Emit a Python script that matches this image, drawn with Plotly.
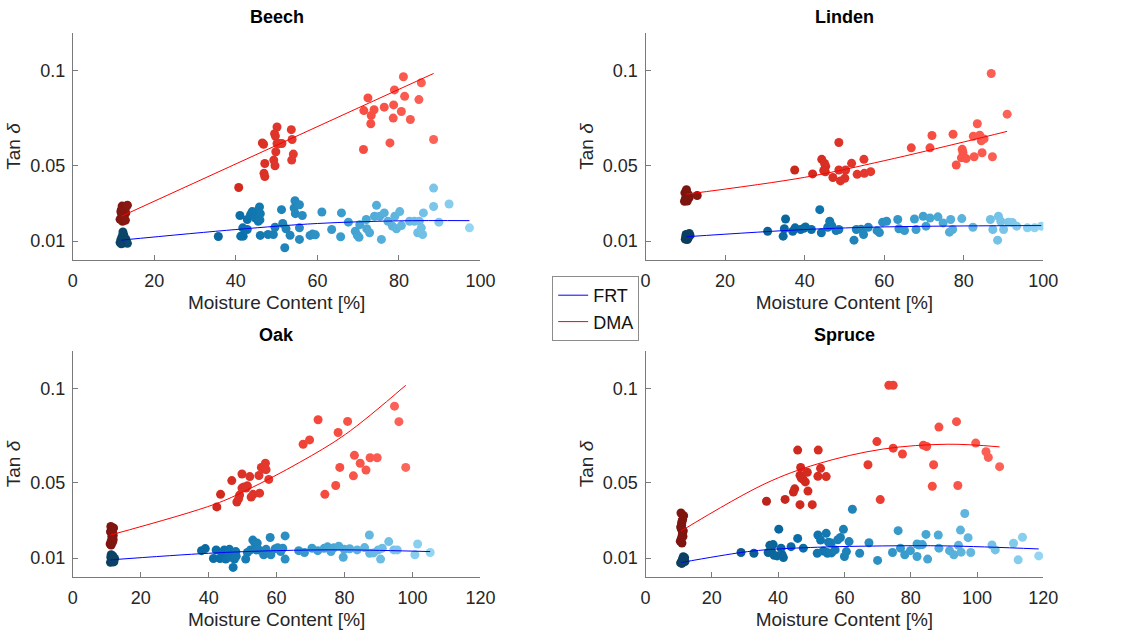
import plotly.graph_objects as go

# ---------------- DATA ----------------
# Beech
beech_frt_mc = [11.6, 12.0, 12.4, 12.8, 13.2, 11.8, 12.2, 12.6, 13.0, 12.1, 12.5, 12.3, 13.4, 11.9,
                35.7, 41.0, 41.2, 41.8, 41.7, 42.8, 42.8, 43.6, 44.0, 44.6, 45.2, 44.8, 45.5, 45.9, 45.8,
                46.0, 46.0, 47.9, 49.2, 49.6, 51.2, 51.5, 52.0, 52.3, 53.3, 54.5, 54.3, 54.6, 55.6, 55.6,
                55.6, 56.3, 58.2, 58.8, 59.5, 61.1, 63.5, 65.7, 65.9, 67.6, 69.3, 69.8, 70.2, 70.4, 72.0,
                72.1, 72.8, 74.5, 74.0, 75.3, 75.7, 76.4, 77.3, 78.4, 79.0, 79.4, 80.2, 80.6, 82.6, 83.8,
                85.0, 84.6, 85.5, 85.8, 86.0, 88.5, 88.5, 89.8, 92.3, 97.3]
beech_frt_tan = [0.0092, 0.0098, 0.0090, 0.0100, 0.0094, 0.0108, 0.0115, 0.0105, 0.0112, 0.0125, 0.0132, 0.0148, 0.0088, 0.0086,
                 0.0124, 0.0235, 0.0126, 0.0126, 0.0170, 0.0161, 0.0214, 0.0240, 0.0256, 0.0250, 0.0258, 0.0222, 0.0205, 0.0212, 0.0280,
                 0.0130, 0.0245, 0.0135, 0.0135, 0.0173, 0.0266, 0.0193, 0.0065, 0.0165, 0.0131, 0.0313, 0.0275, 0.0245, 0.0292, 0.0170,
                 0.0109, 0.0235, 0.0130, 0.0137, 0.0133, 0.0254, 0.0161, 0.0123, 0.0249, 0.0200, 0.0152, 0.0130, 0.0120, 0.0187, 0.0214,
                 0.0165, 0.0144, 0.0289, 0.0231, 0.0231, 0.0109, 0.0249, 0.0205, 0.0179, 0.0231, 0.0165, 0.0256, 0.0182, 0.0205, 0.0205,
                 0.0205, 0.0144, 0.0170, 0.0135, 0.0249, 0.0380, 0.0283, 0.0200, 0.0296, 0.0170]
beech_dma_mc = [11.6, 12.0, 12.4, 12.8, 13.2, 11.8, 12.2, 12.6, 13.0, 12.1, 12.5, 12.3, 13.4, 11.9, 12.9,
                40.7, 46.5, 46.8, 47.1, 46.9, 47.1, 50.1, 49.5, 49.7, 50.1, 50.7, 51.3, 49.8, 49.3, 49.6,
                53.6, 53.8, 54.1, 53.7, 72.4, 71.4, 73.2, 73.1, 73.9, 76.4, 78.9, 78.7, 78.6, 80.6, 81.1,
                81.4, 82.8, 84.9, 85.5, 88.5, 77.8, 71.3]
beech_dma_tan = [0.0215, 0.0240, 0.0228, 0.0262, 0.0285, 0.0255, 0.0205, 0.0272, 0.0248, 0.0285, 0.0232, 0.0218, 0.0290, 0.0265, 0.0210,
                 0.0383, 0.0619, 0.0612, 0.0510, 0.0458, 0.0441, 0.0703, 0.0668, 0.0655, 0.0616, 0.0616, 0.0616, 0.0572, 0.0528, 0.0498,
                 0.0689, 0.0637, 0.0560, 0.0528, 0.0857, 0.0790, 0.0764, 0.0720, 0.0794, 0.0808, 0.0899, 0.0820, 0.0750, 0.0785, 0.0969,
                 0.0865, 0.0743, 0.0848, 0.0937, 0.0637, 0.0619, 0.0584]
beech_frt_fit_mc = [11.9, 40.0, 60.0, 80.0, 97.3]
beech_frt_fit_tan = [0.0105, 0.0161, 0.0193, 0.0207, 0.0208]
beech_dma_fit_mc = [11.9, 88.5]
beech_dma_fit_tan = [0.0231, 0.0986]

# Linden
linden_frt_mc = [10.0, 10.3, 10.6, 10.9, 11.2, 10.2, 10.5, 10.8, 11.0, 10.4, 10.7, 10.1,
                 30.7, 34.6, 34.9, 35.2, 37.0, 37.6, 39.0, 40.2, 39.8, 41.7, 43.8, 44.2, 45.8, 46.3, 46.8,
                 47.9, 48.6, 52.4, 53.0, 54.2, 54.8, 56.0, 58.2, 58.8, 59.6, 60.6, 63.4, 63.7, 65.1, 67.6,
                 68.0, 69.8, 70.5, 71.5, 73.5, 74.8, 76.4, 76.7, 77.2, 79.5, 82.3, 86.7, 87.3, 88.5, 88.7,
                 89.3, 90.0, 91.2, 92.2, 93.3, 96.0, 97.8, 99.5]
linden_frt_tan = [0.0110, 0.0118, 0.0112, 0.0125, 0.0130, 0.0135, 0.0108, 0.0120, 0.0140, 0.0115, 0.0128, 0.0122,
                  0.0152, 0.0126, 0.0165, 0.0217, 0.0152, 0.0170, 0.0161, 0.0175, 0.0168, 0.0161, 0.0266, 0.0144, 0.0173, 0.0205, 0.0182,
                  0.0156, 0.0161, 0.0105, 0.0161, 0.0163, 0.0135, 0.0173, 0.0155, 0.0145, 0.0200, 0.0205, 0.0214, 0.0165, 0.0156, 0.0217,
                  0.0161, 0.0231, 0.0179, 0.0222, 0.0228, 0.0196, 0.0147, 0.0214, 0.0161, 0.0219, 0.0173, 0.0214, 0.0161, 0.0105, 0.0231,
                  0.0205, 0.0161, 0.0200, 0.0198, 0.0179, 0.0170, 0.0170, 0.0179]
linden_dma_mc = [9.8, 10.1, 10.4, 10.7, 11.0, 9.9, 10.2, 10.5, 10.8, 10.3, 10.6, 10.0,
                 13.0, 37.5, 42.0, 44.3, 45.0, 45.3, 44.8, 45.2, 47.1, 48.6, 48.6, 49.0, 50.1, 50.3, 51.8,
                 53.2, 54.9, 55.0, 56.6, 66.8, 71.5, 72.0, 77.3, 78.1, 79.6, 79.8, 79.4, 80.6, 82.6, 82.4,
                 83.4, 84.0, 84.4, 85.1, 84.6, 86.9, 87.2, 90.9]
linden_dma_tan = [0.0310, 0.0325, 0.0318, 0.0340, 0.0330, 0.0355, 0.0365, 0.0312, 0.0345, 0.0372, 0.0335, 0.0320,
                  0.0341, 0.0476, 0.0455, 0.0532, 0.0510, 0.0495, 0.0473, 0.0466, 0.0436, 0.0476, 0.0621, 0.0418, 0.0432, 0.0476, 0.0511,
                  0.0453, 0.0532, 0.0458, 0.0467, 0.0593, 0.0593, 0.0658, 0.0665, 0.0502, 0.0585, 0.0568, 0.0540, 0.0536, 0.0546, 0.0654,
                  0.0720, 0.0660, 0.0630, 0.0640, 0.0567, 0.0986, 0.0546, 0.0771]
linden_frt_fit_mc = [10.3, 40.0, 60.0, 80.0, 99.5]
linden_frt_fit_tan = [0.0123, 0.0161, 0.0175, 0.0180, 0.0182]
linden_dma_fit_mc = [10.3, 40.0, 60.0, 80.0, 90.9]
linden_dma_fit_tan = [0.0348, 0.0437, 0.0525, 0.0624, 0.0680]

# Oak
oak_frt_mc = [11.1, 11.4, 11.7, 12.0, 12.3, 11.2, 11.5, 11.8, 12.1, 11.3, 11.6, 11.9,
              37.9, 39.0, 41.4, 42.2, 43.3, 43.9, 44.6, 45.0, 45.6, 46.1, 46.7, 47.2, 47.6, 48.1, 48.0,
              50.9, 51.4, 52.3, 53.0, 53.6, 54.3, 54.0, 54.8, 56.2, 56.9, 58.1, 58.3, 59.6, 60.3, 61.2,
              61.8, 62.5, 62.5, 66.5, 68.2, 70.4, 72.1, 74.0, 75.0, 76.0, 76.8, 78.3, 79.6, 79.9, 81.5,
              83.7, 85.9, 87.3, 87.4, 88.5, 89.9, 90.6, 91.1, 93.0, 94.5, 95.5, 100.7, 101.5, 105.2]
oak_frt_tan = [0.0078, 0.0085, 0.0092, 0.0080, 0.0098, 0.0105, 0.0088, 0.0112, 0.0082, 0.0118, 0.0095, 0.0100,
               0.0140, 0.0151, 0.0098, 0.0144, 0.0098, 0.0126, 0.0144, 0.0095, 0.0105, 0.0147, 0.0105, 0.0051, 0.0095, 0.0110, 0.0135,
               0.0095, 0.0130, 0.0144, 0.0196, 0.0180, 0.0180, 0.0144, 0.0144, 0.0118, 0.0147, 0.0210, 0.0118, 0.0150, 0.0155, 0.0135,
               0.0153, 0.0218, 0.0095, 0.0140, 0.0130, 0.0153, 0.0140, 0.0152, 0.0160, 0.0135, 0.0155, 0.0163, 0.0105, 0.0147, 0.0150,
               0.0144, 0.0156, 0.0223, 0.0126, 0.0128, 0.0144, 0.0095, 0.0153, 0.0188, 0.0144, 0.0144, 0.0118, 0.0175, 0.0130]
oak_dma_mc = [11.0, 11.3, 11.6, 11.9, 12.0, 11.1, 11.4, 11.7, 11.8, 11.2, 11.5, 11.9, 11.3, 11.6,
              42.4, 43.5, 46.8, 49.8, 49.1, 49.8, 50.4, 48.3, 48.8, 51.0, 51.4, 52.1, 52.5, 53.1, 54.8,
              55.0, 55.5, 56.2, 56.7, 56.9, 57.7, 67.8, 69.7, 72.2, 74.2, 77.4, 78.1, 78.6, 80.9, 82.6,
              82.9, 84.6, 86.3, 87.5, 89.6, 94.7, 96.0, 98.0]
oak_dma_tan = [0.0175, 0.0190, 0.0205, 0.0220, 0.0260, 0.0240, 0.0255, 0.0185, 0.0232, 0.0268, 0.0215, 0.0198, 0.0170, 0.0248,
               0.0372, 0.0439, 0.0512, 0.0547, 0.0435, 0.0472, 0.0478, 0.0398, 0.0415, 0.0472, 0.0484, 0.0533, 0.0425, 0.0439, 0.0539,
               0.0445, 0.0582, 0.0574, 0.0604, 0.0570, 0.0518, 0.0705, 0.0728, 0.0835, 0.0439, 0.0486, 0.0767, 0.0582, 0.0826, 0.0537,
               0.0646, 0.0604, 0.0568, 0.0633, 0.0633, 0.0907, 0.0825, 0.0582]
oak_frt_fit_mc = [11.1, 40.0, 60.0, 80.0, 105.2]
oak_frt_fit_tan = [0.0091, 0.0126, 0.0140, 0.0144, 0.0135]
oak_dma_fit_mc = [11.1, 41.7, 51.4, 66.8, 80.3, 98.0]
oak_dma_fit_tan = [0.0223, 0.0386, 0.0463, 0.0609, 0.0758, 0.1018]

# Spruce
spruce_frt_mc = [10.6, 10.9, 11.2, 11.5, 11.8, 10.8, 11.1, 11.4, 11.7, 11.0, 11.3, 11.9,
                 28.8, 32.7, 37.0, 38.0, 37.5, 38.5, 38.8, 39.7, 40.2, 40.9, 41.2, 41.6, 43.9, 45.9, 47.6,
                 51.8, 52.0, 52.8, 53.6, 54.8, 54.5, 55.2, 56.0, 54.9, 56.1, 57.2, 58.0, 58.8, 59.7, 60.0,
                 60.6, 61.4, 62.4, 64.6, 67.4, 70.0, 74.5, 76.2, 76.9, 78.2, 79.9, 81.9, 81.9, 82.5, 83.5,
                 84.6, 85.1, 88.3, 88.5, 91.7, 93.0, 94.4, 95.0, 95.2, 96.3, 97.3, 98.1, 104.5, 105.5,
                 111.0, 112.4, 113.7, 118.6]
spruce_frt_tan = [0.0075, 0.0080, 0.0088, 0.0095, 0.0102, 0.0078, 0.0092, 0.0108, 0.0085, 0.0072, 0.0098, 0.0082,
                  0.0130, 0.0126, 0.0130, 0.0136, 0.0168, 0.0172, 0.0115, 0.0112, 0.0254, 0.0153, 0.0118, 0.0103, 0.0161, 0.0205, 0.0153,
                  0.0126, 0.0223, 0.0196, 0.0138, 0.0130, 0.0232, 0.0185, 0.0180, 0.0126, 0.0128, 0.0144, 0.0198, 0.0210, 0.0253, 0.0109,
                  0.0135, 0.0188, 0.0360, 0.0126, 0.0182, 0.0088, 0.0130, 0.0246, 0.0153, 0.0118, 0.0140, 0.0175, 0.0109, 0.0170, 0.0172,
                  0.0226, 0.0095, 0.0223, 0.0153, 0.0140, 0.0118, 0.0168, 0.0249, 0.0132, 0.0337, 0.0209, 0.0130, 0.0170, 0.0144,
                  0.0179, 0.0091, 0.0211, 0.0112]
spruce_dma_mc = [10.5, 10.8, 11.1, 11.4, 10.6, 10.9, 11.2, 11.5, 10.7, 11.0, 11.3, 10.8, 11.0, 11.2, 10.9,
                 36.5, 42.1, 45.9, 46.8, 46.6, 44.6, 45.0, 46.6, 47.5, 48.2, 47.0, 48.8, 49.0, 50.3, 52.1,
                 52.8, 52.0, 54.5, 67.1, 69.8, 70.8, 73.4, 74.7, 74.7, 77.5, 83.8, 84.8, 86.5, 86.9, 88.5,
                 93.8, 94.2, 99.6, 102.7, 103.4, 106.8]
spruce_dma_tan = [0.0190, 0.0205, 0.0225, 0.0245, 0.0265, 0.0285, 0.0305, 0.0325, 0.0340, 0.0180, 0.0215, 0.0255, 0.0295, 0.0235, 0.0275,
                  0.0402, 0.0412, 0.0674, 0.0582, 0.0384, 0.0451, 0.0468, 0.0540, 0.0520, 0.0505, 0.0525, 0.0556, 0.0456, 0.0384, 0.0674,
                  0.0577, 0.0535, 0.0533, 0.0596, 0.0719, 0.0411, 0.1018, 0.1018, 0.0684, 0.0653, 0.0700, 0.0693, 0.0482, 0.0596, 0.0796,
                  0.0825, 0.0486, 0.0711, 0.0665, 0.0635, 0.0586]
spruce_frt_fit_mc = [10.7, 28.8, 36.0, 51.8, 71.5, 91.2, 118.6]
spruce_frt_fit_tan = [0.0077, 0.0130, 0.0144, 0.0158, 0.0165, 0.0165, 0.0149]
spruce_dma_fit_mc = [10.7, 36.0, 51.8, 71.5, 91.2, 106.8]
spruce_dma_fit_tan = [0.0244, 0.0495, 0.0600, 0.0679, 0.0705, 0.0691]

species = ["Beech", "Linden", "Oak", "Spruce"]
x_max = [100, 100, 120, 120]
y_tick_vals = [0.01, 0.05, 0.1]
y_tick_text = ["0.01", "0.05", "0.1"]

# ---------------- STYLE ----------------
FONT = "Liberation Sans, Arial, Helvetica, sans-serif"
BLUE_SCALE = [[0, "#0b3d5c"], [0.06, "#0c4f78"], [0.35, "#0a6fa9"], [0.65, "#3c9fcf"], [1, "#93d5f3"]]
RED_SCALE = [[0, "#7c140f"], [0.06, "#8e1a12"], [0.35, "#d32a1f"], [0.65, "#f5473c"], [1, "#ff6e63"]]

W, H = 1134, 635
# pixel boxes of the axes: (left, right, top, bottom)
boxes = [(69, 484, 33, 260), (652, 1057, 33, 260), (69, 484, 351, 577), (652, 1057, 351, 577)]

data_sets = [
    (beech_frt_mc, beech_frt_tan, beech_dma_mc, beech_dma_tan,
     beech_frt_fit_mc, beech_frt_fit_tan, beech_dma_fit_mc, beech_dma_fit_tan),
    (linden_frt_mc, linden_frt_tan, linden_dma_mc, linden_dma_tan,
     linden_frt_fit_mc, linden_frt_fit_tan, linden_dma_fit_mc, linden_dma_fit_tan),
    (oak_frt_mc, oak_frt_tan, oak_dma_mc, oak_dma_tan,
     oak_frt_fit_mc, oak_frt_fit_tan, oak_dma_fit_mc, oak_dma_fit_tan),
    (spruce_frt_mc, spruce_frt_tan, spruce_dma_mc, spruce_dma_tan,
     spruce_frt_fit_mc, spruce_frt_fit_tan, spruce_dma_fit_mc, spruce_dma_fit_tan),
]

fig = go.Figure()
layout = dict(
    width=W, height=H,
    margin=dict(l=0, r=0, t=0, b=0),
    paper_bgcolor="white", plot_bgcolor="white",
    font=dict(family=FONT, color="#262626"),
    showlegend=True,
    legend=dict(x=557 / W, y=1 - 276 / H, xanchor="left", yanchor="top",
                bordercolor="#8c8c8c", borderwidth=1, bgcolor="white",
                font=dict(family=FONT, size=18, color="#111111"),
                tracegroupgap=0, itemwidth=30),
    annotations=[],
)

for i, (name, xm, box, ds) in enumerate(zip(species, x_max, boxes, data_sets)):
    fm, ft, dm, dt, ffm, fft, dfm, dft = ds
    n = "" if i == 0 else str(i + 1)
    xa, ya = "x" + n, "y" + n
    l, r, t, b = box
    cmax = max(max(fm), max(dm))
    # scatter points
    fig.add_trace(go.Scatter(x=fm, y=ft, mode="markers", xaxis=xa, yaxis=ya, showlegend=False,
                             marker=dict(size=9, color=fm, colorscale=BLUE_SCALE, cmin=10, cmax=cmax,
                                         line=dict(width=0))))
    fig.add_trace(go.Scatter(x=dm, y=dt, mode="markers", xaxis=xa, yaxis=ya, showlegend=False,
                             marker=dict(size=9, color=dm, colorscale=RED_SCALE, cmin=10, cmax=cmax,
                                         line=dict(width=0))))
    # fitted lines
    fig.add_trace(go.Scatter(x=ffm, y=fft, mode="lines", xaxis=xa, yaxis=ya, name="FRT",
                             legendgroup="FRT", showlegend=(i == 0),
                             line=dict(color="#0000ff", width=1, shape="spline")))
    fig.add_trace(go.Scatter(x=dfm, y=dft, mode="lines", xaxis=xa, yaxis=ya, name="DMA",
                             legendgroup="DMA", showlegend=(i == 0),
                             line=dict(color="#ff0000", width=1, shape="spline")))

    axis_common = dict(showline=True, linecolor="#7a7a7a", linewidth=1, ticks="inside", ticklen=5,
                       tickcolor="#7a7a7a", showgrid=False, zeroline=False, mirror=False,
                       tickfont=dict(family=FONT, size=18, color="#262626"))
    layout["xaxis" + n] = dict(axis_common, domain=[l / W, r / W], anchor=ya, range=[0, xm],
                               tick0=0, dtick=20, ticklabelstandoff=4,
                               title=dict(text="Moisture Content [%]", standoff=6,
                                          font=dict(family=FONT, size=19, color="#262626")))
    layout["yaxis" + n] = dict(axis_common, domain=[1 - b / H, 1 - t / H], anchor=xa, range=[0, 0.12],
                               tickvals=y_tick_vals, ticktext=y_tick_text, ticklabelstandoff=3,
                               title=dict(text="Tan <i>δ</i>", standoff=4,
                                          font=dict(family=FONT, size=19, color="#262626")))
    layout["annotations"].append(dict(text="<b>%s</b>" % name, xref="paper", yref="paper",
                                      x=(l + r) / 2 / W, y=1 - (t - 16) / H, xanchor="center",
                                      yanchor="middle", showarrow=False,
                                      font=dict(family=FONT, size=18, color="#000000")))

fig.update_layout(**layout)
fig.write_html("out.html")
